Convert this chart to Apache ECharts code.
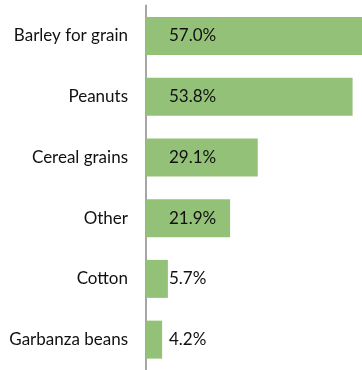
<!DOCTYPE html>
<html>
<head>
<meta charset="utf-8">
<script src="https://cdn.jsdelivr.net/npm/echarts@6/dist/echarts.min.js"></script>
<style>
html,body{margin:0;padding:0;background:#fff;}
#chart{width:362px;height:370px;}
</style>
</head>
<body>
<div id="chart"></div>
<script>
const categories = ["Barley for grain", "Peanuts", "Cereal grains", "Other", "Cotton", "Garbanza beans"];
const values = [57.0, 53.8, 29.1, 21.9, 5.7, 4.2];
const labels = ["57.0%", "53.8%", "29.1%", "21.9%", "5.7%", "4.2%"];

const chart = echarts.init(document.getElementById('chart'), null, {renderer: 'canvas'});
chart.setOption({
  animation: false,
  backgroundColor: '#ffffff',
  grid: {left: 146, right: 0, top: 5.5, bottom: -2.2, containLabel: false},
  xAxis: {
    type: 'value', min: 0, max: 56.25, show: false
  },
  yAxis: {
    type: 'category', data: categories, inverse: true,
    axisLine: {show: true, lineStyle: {color: '#a6a6a6', width: 2}},
    axisTick: {show: false},
    axisLabel: {color: '#111111', fontFamily: 'Lato', fontSize: 17, margin: 18}
  },
  series: [{
    type: 'bar',
    data: values,
    barWidth: 38,
    clip: true,
    itemStyle: {color: '#94c178'},
    label: {
      show: true,
      position: [23, '50%'],
      verticalAlign: 'middle',
      align: 'left',
      color: '#111111',
      fontFamily: 'Lato',
      fontSize: 17,
      formatter: p => labels[p.dataIndex]
    }
  }]
});
</script>
</body>
</html>
